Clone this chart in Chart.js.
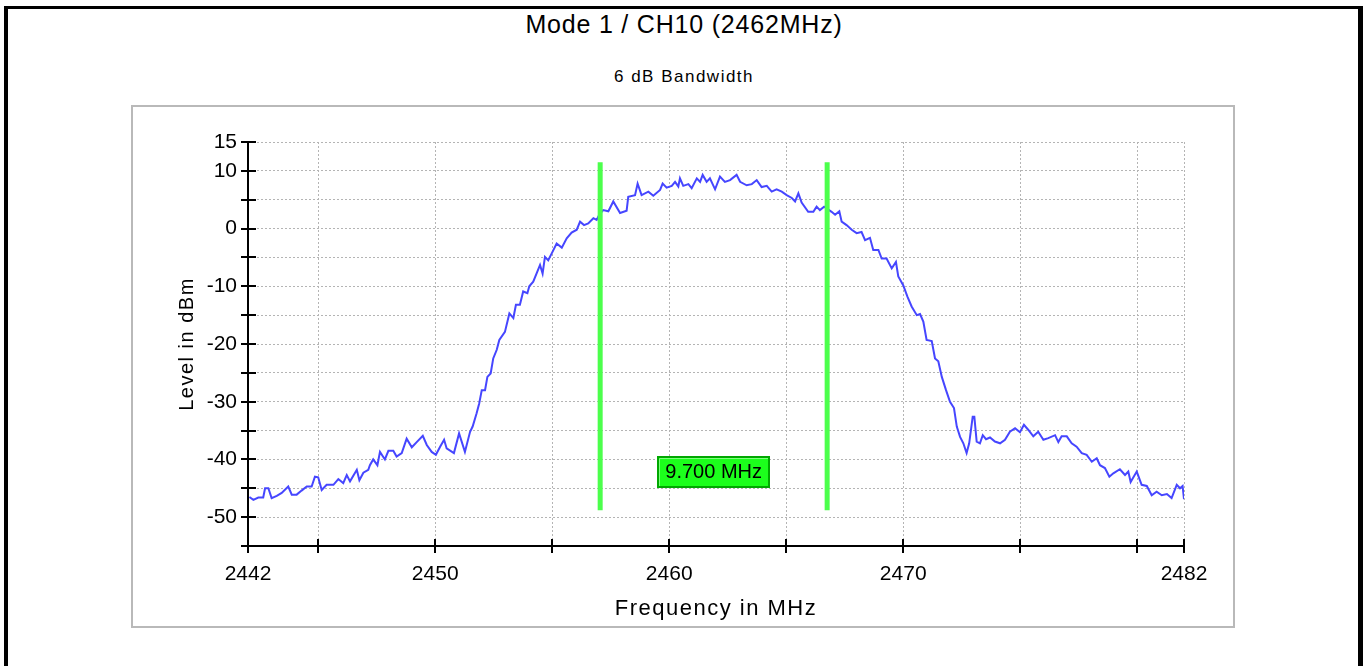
<!DOCTYPE html>
<html>
<head>
<meta charset="utf-8">
<script src="https://cdn.jsdelivr.net/npm/chart.js@4.4.1/dist/chart.umd.min.js"></script>
<style>
html,body{margin:0;padding:0;background:#fff;width:1368px;height:666px;overflow:hidden;}
#frame{position:absolute;left:4px;top:6px;width:1350px;height:720px;border-left:4px solid #000;border-top:3px solid #000;border-right:5px solid #000;box-sizing:content-box;}
#panel{position:absolute;left:131px;top:105px;width:1100px;height:519px;border:2px solid #b9b9b9;}
#title{position:absolute;left:0;top:12px;width:1368px;text-align:center;font:25px/1 "Liberation Sans",Arial,sans-serif;letter-spacing:0.8px;color:#000;}
#subtitle{position:absolute;left:0;top:68px;width:1368px;text-align:center;font:17px/1 "Liberation Sans",Arial,sans-serif;letter-spacing:1.5px;color:#000;}
#chart{position:absolute;left:0;top:0;}
</style>
</head>
<body>
<div id="frame"></div>
<div id="panel"></div>
<div id="title">Mode 1 / CH10 (2462MHz)</div>
<div id="subtitle">6 dB Bandwidth</div>
<canvas id="chart" width="1368" height="666"></canvas>
<script>
// ---- data ----
const freqMHz = [
2442.06,2442.23,2442.44,2442.65,2442.73,2442.87,2443.01,2443.23,2443.44,2443.72,
2443.87,2444.08,2444.29,2444.51,2444.72,2444.86,2445.00,2445.15,2445.36,2445.65,
2445.86,2446.07,2446.22,2446.36,2446.65,2446.76,2446.93,2447.14,2447.21,2447.35,
2447.53,2447.64,2447.85,2448.00,2448.21,2448.35,2448.57,2448.78,2449.00,2449.21,
2449.47,2449.64,2449.85,2450.03,2450.21,2450.38,2450.49,2450.80,2451.02,2451.27,
2451.49,2451.60,2451.77,2451.88,2451.99,2452.13,2452.23,2452.37,2452.48,2452.63,
2452.74,2452.98,2453.17,2453.34,2453.45,2453.62,2453.76,2453.94,2454.02,2454.19,
2454.36,2454.48,2454.59,2454.69,2454.83,2454.98,2455.19,2455.41,2455.62,2455.83,
2456.05,2456.19,2456.36,2456.54,2456.76,2456.90,2457.01,2457.18,2457.40,2457.61,
2457.90,2458.18,2458.25,2458.54,2458.65,2458.82,2459.11,2459.32,2459.61,2459.72,
2459.89,2460.11,2460.25,2460.39,2460.46,2460.60,2460.82,2460.96,2461.18,2461.32,
2461.43,2461.60,2461.74,2461.96,2462.17,2462.38,2462.60,2462.88,2463.03,2463.31,
2463.53,2463.74,2463.95,2464.17,2464.38,2464.59,2464.81,2465.02,2465.24,2465.38,
2465.52,2465.66,2465.94,2466.16,2466.30,2466.44,2466.62,2466.94,2467.09,2467.27,
2467.37,2467.58,2467.80,2468.01,2468.22,2468.37,2468.58,2468.72,2468.94,2469.08,
2469.29,2469.51,2469.69,2469.79,2470.00,2470.18,2470.36,2470.58,2470.72,2470.86,
2471.00,2471.22,2471.36,2471.50,2471.65,2471.83,2472.00,2472.17,2472.29,2472.43,
2472.57,2472.71,2472.82,2472.97,2473.04,2473.14,2473.28,2473.40,2473.54,2473.71,
2473.92,2474.14,2474.35,2474.56,2474.78,2474.99,2475.16,2475.35,2475.56,2475.77,
2475.99,2476.20,2476.49,2476.63,2476.77,2476.99,2477.20,2477.41,2477.63,2477.84,
2478.06,2478.27,2478.41,2478.62,2478.81,2478.98,2479.26,2479.48,2479.62,2479.72,
2479.98,2480.19,2480.41,2480.62,2480.83,2481.05,2481.27,2481.47,2481.69,2481.83,
2481.94,2482.00];
const levelDbm = [
-46.5,-47.0,-46.6,-46.6,-45.0,-45.0,-46.7,-46.3,-45.8,-44.7,
-46.1,-46.1,-45.4,-44.7,-44.7,-43.0,-43.1,-45.3,-44.4,-44.4,
-43.4,-44.1,-42.7,-43.8,-41.8,-43.6,-42.3,-41.8,-41.0,-40.0,
-41.0,-38.7,-40.0,-38.5,-38.5,-39.5,-38.9,-36.4,-37.9,-37.0,
-35.9,-37.5,-38.7,-39.2,-37.8,-36.6,-38.1,-38.9,-35.5,-38.7,
-35.2,-34.3,-32.0,-30.3,-28.0,-28.0,-25.7,-25.1,-22.5,-21.0,
-19.3,-17.9,-14.7,-15.5,-13.2,-13.2,-10.9,-11.2,-10.0,-9.2,
-7.5,-6.3,-7.8,-4.9,-5.5,-4.3,-2.6,-3.3,-1.7,-0.7,
-0.2,1.2,0.6,0.9,1.8,1.5,2.4,3.2,3.0,4.7,
2.7,3.1,5.5,5.8,7.8,5.8,6.4,5.7,6.7,7.8,
7.1,7.4,8.1,7.3,8.7,7.4,7.7,7.0,8.7,8.1,
9.3,8.1,8.7,6.8,9.0,8.1,8.4,9.3,8.1,7.5,
7.7,8.4,7.2,7.4,6.4,6.8,6.4,5.8,5.3,4.7,
6.1,4.5,2.9,2.9,3.8,3.2,3.8,2.9,2.4,3.0,
1.2,0.6,-0.2,-0.8,-0.6,-2.0,-1.6,-3.7,-3.7,-5.2,
-5.2,-6.9,-5.8,-8.3,-9.8,-11.8,-13.5,-15.0,-14.8,-16.1,
-19.3,-19.5,-22.5,-23.0,-25.7,-28.0,-30.0,-31.1,-34.3,-36.1,
-37.2,-38.9,-37.2,-32.6,-32.6,-36.9,-37.2,-35.8,-36.5,-36.2,
-36.9,-37.2,-36.6,-35.2,-34.6,-35.3,-34.0,-34.9,-36.0,-35.2,
-36.6,-36.3,-35.8,-37.0,-36.0,-36.0,-37.2,-37.8,-38.9,-39.2,
-40.4,-39.8,-41.0,-41.5,-43.0,-42.4,-41.7,-42.7,-42.1,-43.9,
-42.1,-44.4,-44.6,-46.2,-45.6,-46.2,-46.0,-46.7,-44.4,-45.0,
-44.6,-46.9];

const markerFreqs = [2457.05, 2466.75];
const markerLevels = [11.5, -48.8];
const bandwidthLabel = '9.700 MHz';

const xTickValues = [2442,2445,2450,2455,2460,2465,2470,2475,2480,2482];
const xLabelValues = [2442,2450,2460,2470,2482];
const yTickValues = [-55,-50,-45,-40,-35,-30,-25,-20,-15,-10,-5,0,5,10,15];
const yLabelValues = [15,10,0,-10,-20,-30,-40,-50];

// ---- chart ----
const tickFont = {family:'"Liberation Sans",Arial,sans-serif', size:21};

// axis titles (drawn in the grid layer, before datasets) get letter spacing;
// tick labels (z:1, drawn after datasets) do not.
const spacingPlugin = {
  id:'spacing',
  beforeDraw(chart){ try{ chart.ctx.letterSpacing='1.5px'; }catch(e){} },
  afterDatasetsDraw(chart){ try{ chart.ctx.letterSpacing='0px'; }catch(e){} }
};

const tickMarksPlugin = {
  id:'tickMarks',
  afterDraw(chart){
    const {ctx, chartArea, scales:{x,y}} = chart;
    ctx.save();
    ctx.strokeStyle = '#000';
    ctx.lineWidth = 2;
    ctx.beginPath();
    xTickValues.forEach(v=>{
      const px = Math.round(x.getPixelForValue(v));
      ctx.moveTo(px, chartArea.bottom-7);
      ctx.lineTo(px, chartArea.bottom+7);
    });
    yTickValues.forEach(v=>{
      const py = Math.round(y.getPixelForValue(v));
      ctx.moveTo(chartArea.left-7, py);
      ctx.lineTo(chartArea.left+8, py);
    });
    ctx.stroke();
    ctx.restore();
  }
};

const bwLabelPlugin = {
  id:'bwLabel',
  afterDatasetsDraw(chart, args, opts){
    const {ctx, scales:{x,y}} = chart;
    const cx = x.getPixelForValue((markerFreqs[0]+markerFreqs[1])/2);
    const cy = y.getPixelForValue(opts.level);
    const w = 113, h = 32;
    const l = Math.round(cx - w/2), t = Math.round(cy - h/2);
    ctx.save();
    ctx.fillStyle = '#1cff1c';
    ctx.fillRect(l, t, w, h);
    ctx.strokeStyle = '#00a800';
    ctx.lineWidth = 2;
    ctx.strokeRect(l+1, t+1, w-2, h-2);
    ctx.strokeStyle = '#7dff7d';
    ctx.lineWidth = 1;
    ctx.beginPath();
    ctx.moveTo(l+2.5, t+h-2); ctx.lineTo(l+2.5, t+2.5); ctx.lineTo(l+w-2, t+2.5);
    ctx.stroke();
    ctx.fillStyle = '#000';
    ctx.font = '20px "Liberation Sans",Arial,sans-serif';
    ctx.textAlign = 'center';
    ctx.textBaseline = 'middle';
    ctx.fillText(bandwidthLabel, cx, cy+1);
    ctx.restore();
  }
};

const spectrum = freqMHz.map((f,i)=>({x:f, y:levelDbm[i]}));

new Chart(document.getElementById('chart'), {
  type:'line',
  data:{
    datasets:[
      {label:'Marker 1', data: markerLevels.map(l=>({x:markerFreqs[0], y:l})), borderColor:'#4cff4c', borderWidth:5, pointRadius:0, order:0},
      {label:'Marker 2', data: markerLevels.map(l=>({x:markerFreqs[1], y:l})), borderColor:'#4cff4c', borderWidth:5, pointRadius:0, order:0},
      {label:'Level', data: spectrum, borderColor:'#4646ff', borderWidth:2, pointRadius:0, tension:0, order:1}
    ]
  },
  options:{
    responsive:false,
    animation:false,
    devicePixelRatio:1,
    layout:{padding:{left:150, right:184, top:142, bottom:20}},
    plugins:{
      legend:{display:false},
      tooltip:{enabled:false},
      title:{display:false},
      bwLabel:{level:-42.1}
    },
    scales:{
      x:{
        type:'linear', min:2442, max:2482,
        afterBuildTicks:s=>{ s.ticks = xTickValues.map(v=>({value:v})); },
        afterFit:s=>{ s.height = 100; },
        ticks:{z:1, autoSkip:false, maxRotation:0, minRotation:0, padding:16, color:'#000', font:tickFont,
          callback:v=> xLabelValues.includes(v) ? String(v) : ''},
        grid:{drawTicks:false, lineWidth:1, color:c=> (c.tick && c.tick.value===2442) ? 'rgba(0,0,0,0)' : '#b4b4b4'},
        border:{display:true, color:'#000', width:2, dash:[2,2]},
        title:{display:true, text:'Frequency in MHz', color:'#000', padding:{top:0,bottom:24},
          font:{family:'"Liberation Sans",Arial,sans-serif', size:22}}
      },
      y:{
        type:'linear', min:-55, max:15,
        afterBuildTicks:s=>{ s.ticks = yTickValues.map(v=>({value:v})); },
        afterFit:s=>{ s.width = 98; },
        ticks:{z:1, autoSkip:false, padding:11, color:'#000', font:tickFont,
          callback:v=> yLabelValues.includes(v) ? String(v) : ''},
        grid:{drawTicks:false, lineWidth:1, color:c=> (c.tick && c.tick.value===-55) ? 'rgba(0,0,0,0)' : '#b4b4b4'},
        border:{display:true, color:'#000', width:2, dash:[2,2]},
        title:{display:true, text:'Level in dBm', color:'#000', padding:{top:25,bottom:0},
          font:{family:'"Liberation Sans",Arial,sans-serif', size:20}}
      }
    }
  },
  plugins:[spacingPlugin, tickMarksPlugin, bwLabelPlugin]
});
</script>
</body>
</html>
